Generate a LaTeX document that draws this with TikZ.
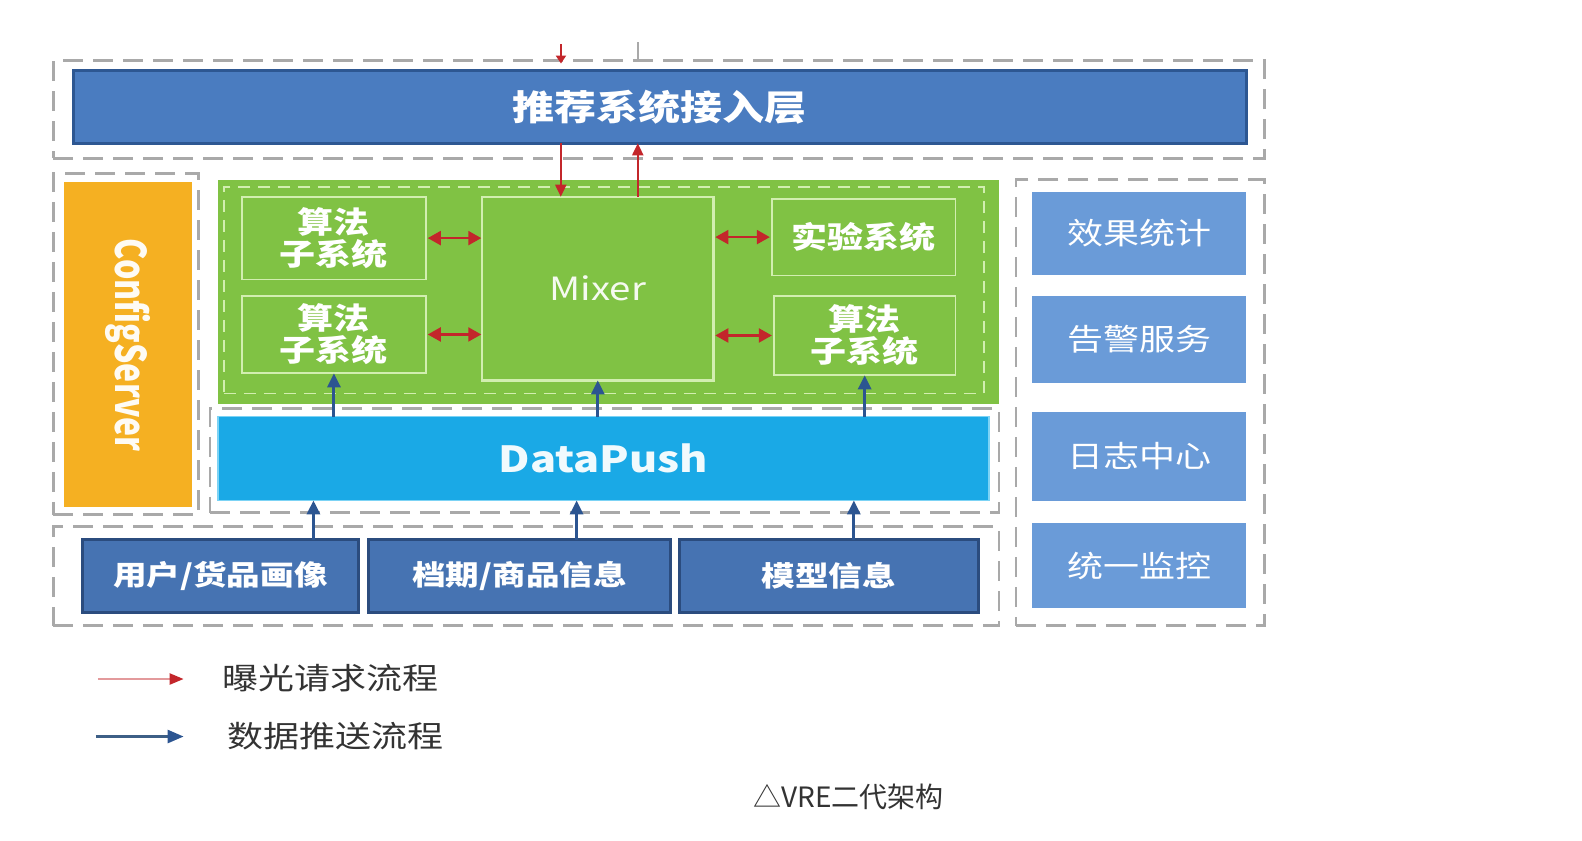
\documentclass[tikz,border=0pt]{standalone}
\usepackage{fontspec}
\usepackage{graphicx}
\usetikzlibrary{arrows.meta,fit}
\newfontfamily\cjk{Noto Sans CJK SC}[FakeStretch=1.2]
\newfontfamily\cjkplain{Noto Sans CJK SC}
\definecolor{dgray}{HTML}{A9A9A9}
\definecolor{bannerblue}{HTML}{4A7CC0}
\definecolor{bannerborder}{HTML}{2D5792}
\definecolor{gfill}{HTML}{80C244}
\definecolor{gline}{HTML}{D2EEB0}
\definecolor{orangecs}{HTML}{F5B022}
\definecolor{dpblue}{HTML}{1AA9E6}
\definecolor{dpborder}{HTML}{7CD3F5}
\definecolor{botblue}{HTML}{4673B2}
\definecolor{botborder}{HTML}{2B4C7E}
\definecolor{rblue}{HTML}{6A9BD8}
\definecolor{arrred}{HTML}{C3262B}
\definecolor{legred}{HTML}{E39A9C}
\definecolor{arrblue}{HTML}{2C5591}
\definecolor{legblue}{HTML}{3D5F86}
\definecolor{txtgray}{HTML}{333333}
\begin{document}
\begin{tikzpicture}[x=1.009pt,y=-1.009pt,
  area/.style={inner sep=0pt, outer sep=0pt},
  txt/.style={inner sep=0pt, align=center},
  grpbox/.style={area, draw=dgray, line width=2.6pt, dash pattern=on 20pt off 10pt},
  banner/.style={area, fill=bannerblue, draw=bannerborder, line width=3pt},
  bannertxt/.style={txt, text=white, font=\cjk\bfseries\fontsize{35}{40}\selectfont},
  greenarea/.style={area, fill=gfill},
  innerdash/.style={area, draw=gline, line width=1.8pt, dash pattern=on 12pt off 8pt},
  subbox/.style={area, draw=gline, line width=1.8pt},
  subtxt/.style={txt, text=white, font=\cjk\bfseries\fontsize{30}{32}\selectfont},
  mixbox/.style={area, draw=gline, line width=2.4pt},
  mixtxt/.style={txt, text=white!92!gfill, font=\cjk\fontsize{32}{36}\selectfont},
  csbox/.style={area, fill=orangecs},
  dpbox/.style={area, fill=dpblue, draw=dpborder, line width=1.5pt},
  dptxt/.style={txt, text=white!94!dpblue, font=\cjk\bfseries\fontsize{36}{40}\selectfont},
  botbox/.style={area, fill=botblue, draw=botborder, line width=3pt},
  bottxt/.style={txt, text=white, font=\cjk\bfseries\fontsize{28}{32}\selectfont},
  rbox/.style={area, fill=rblue},
  rtxt/.style={txt, text=white, font=\cjk\fontsize{30}{34}\selectfont},
  legtext/.style={anchor=west, inner sep=0pt, text=txtgray,
    font=\cjk\fontsize{30}{34}\selectfont},
  rarr/.style={draw=arrred, line width=2pt, -{Triangle[length=12pt,width=11pt]}},
  rdbl/.style={draw=arrred, line width=2.2pt,
    {Triangle[length=13pt,width=14pt]}-{Triangle[length=13pt,width=14pt]}},
  barr/.style={draw=arrblue, line width=3pt, -{Triangle[length=14pt,width=13pt]}},
  legr/.style={draw=legred, line width=2.2pt, -{Triangle[length=14pt,width=11pt,color=arrred]}},
  legb/.style={draw=legblue, line width=2.6pt, -{Triangle[length=16pt,width=13pt,color=arrblue]}}
]
\useasboundingbox (0,0) rectangle (1568,833);

% group (dashed) boxes
\node[grpbox, fit={(53,60) (1253,157)}] (gtop) {};
\node[grpbox, fit={(53,172) (197,510)}] (gcs) {};
\node[grpbox, fit={(208,405) (990,508)}] (gdp) {};
\node[grpbox, fit={(53,522) (990,620)}] (gbot) {};
\node[grpbox, fit={(1007,178) (1253,620)}] (gright) {};

% stubs at the cropped top edge
\coordinate (topr) at (556,44);
\coordinate (topg) at (632,42);
\draw[draw=dgray, line width=2pt] (topg) -- (topg |- gtop.north);
\draw[arrred, line width=2pt, -{Triangle[length=8pt,width=10pt]}] (topr) -- ([yshift=-3pt]topr |- gtop.north);

% banner
\node[banner, fit={(73,70) (1235,142)}] (banner) {};
\node[bannertxt] (banner-t) at (banner.center) {推荐系统接入层};

% config server
\node[csbox, fit={(63,180) (190,503)}] (cs) {};
\node[rotate=-90, text=white!95!orangecs, inner sep=0pt,
  font=\cjkplain\bfseries\fontsize{32}{36}\selectfont] (cs-t) at (cs.center) {\scalebox{1}[1.32]{ConfigServer}};

% green area
\node[greenarea, fit={(216,178) (990,400)}] (green) {};
\node[innerdash, fit={(222,185) (975,390)}] (gin) {};
\node[subbox, fit={(240,195) (422,277)}] (tl) {};
\node[subbox, fit={(240,293) (422,370)}] (bl) {};
\node[mixbox, fit={(478,195) (707,377)}] (mixer) {};
\node[subbox, fit={(765,197) (947,273)}] (exp) {};
\node[subbox, fit={(767,293) (947,372)}] (br) {};
\node[subtxt] (tl-t) at (tl.center) {算法\\子系统};
\node[subtxt] (bl-t) at (bl.center) {算法\\子系统};
\node[mixtxt] (mixer-t) at (mixer.center) {Mixer};
\node[subtxt] (exp-t) at (exp.center) {实验系统};
\node[subtxt] (br-t) at (br.center) {算法\\子系统};

% datapush
\node[dpbox, fit={(216,413) (980,496)}] (dp) {};
\node[dptxt] (dp-t) at (dp.center) {DataPush};

% bottom sources
\node[botbox, fit={(82,535) (355,607)}] (b1) {};
\node[botbox, fit={(365,535) (665,607)}] (b2) {};
\node[botbox, fit={(673,535) (970,607)}] (b3) {};
\node[bottxt] (b1-t) at (b1.center) {用户/货品画像};
\node[bottxt] (b2-t) at (b2.center) {档期/商品信息};
\node[bottxt] (b3-t) at (b3.center) {模型信息};

% right column
\node[rbox, fit={(1023,190) (1235,273)}] (r1) {};
\node[rbox, fit={(1023,293) (1235,380)}] (r2) {};
\node[rbox, fit={(1023,408) (1235,497)}] (r3) {};
\node[rbox, fit={(1023,518) (1235,603)}] (r4) {};
\node[rtxt] (r1-t) at (r1.center) {效果统计};
\node[rtxt] (r2-t) at (r2.center) {告警服务};
\node[rtxt] (r3-t) at (r3.center) {日志中心};
\node[rtxt] (r4-t) at (r4.center) {统一监控};

% red request arrows between banner and mixer
\coordinate (m1) at ([xshift=-37pt]mixer.north);
\coordinate (m2) at ([xshift=40pt]mixer.north);
\draw[rarr] (m1 |- banner.south) -- (m1);
\draw[rarr] (m2) -- (m2 |- banner.south);

% red double arrows
\draw[rdbl, shorten <=2pt, shorten >=1pt] (tl.east) -- (mixer.west |- tl.east);
\draw[rdbl, shorten <=2pt, shorten >=1pt] (bl.east) -- (mixer.west |- bl.east);
\draw[rdbl, shorten <=2pt, shorten >=2pt] (mixer.east |- exp.west) -- (exp.west);
\draw[rdbl, shorten <=2pt, shorten >=2pt] (mixer.east |- br.west) -- (br.west);

% blue push arrows datapush -> green
\draw[barr] (dp.north -| bl.south) -- (bl.south);
\draw[barr] (dp.north -| mixer.south) -- (mixer.south);
\draw[barr] (dp.north -| br.south) -- (br.south);

% blue push arrows sources -> datapush
\draw[barr] ([xshift=93pt]b1.north) coordinate (s1) -- (s1 |- dp.south);
\draw[barr] ([xshift=57pt]b2.north) coordinate (s2) -- (s2 |- dp.south);
\draw[barr] ([xshift=25pt]b3.north) coordinate (s3) -- (s3 |- dp.south);

% legend
\coordinate (lr1) at (97,673);
\coordinate (lr2) at (182,673);
\coordinate (lb1) at (95,730);
\coordinate (lb2) at (182,730);
\draw[legr] (lr1) -- (lr2);
\draw[legb] (lb1) -- (lb2);
\node[legtext] (lt1) at (220,672) {曝光请求流程};
\node[legtext] (lt2) at (225,730) {数据推送流程};

% caption
\node[text=txtgray, inner sep=0pt, font=\cjkplain\fontsize{28}{32}\selectfont] (cap) at (841,790) {△VRE二代架构};
\end{tikzpicture}
\end{document}
